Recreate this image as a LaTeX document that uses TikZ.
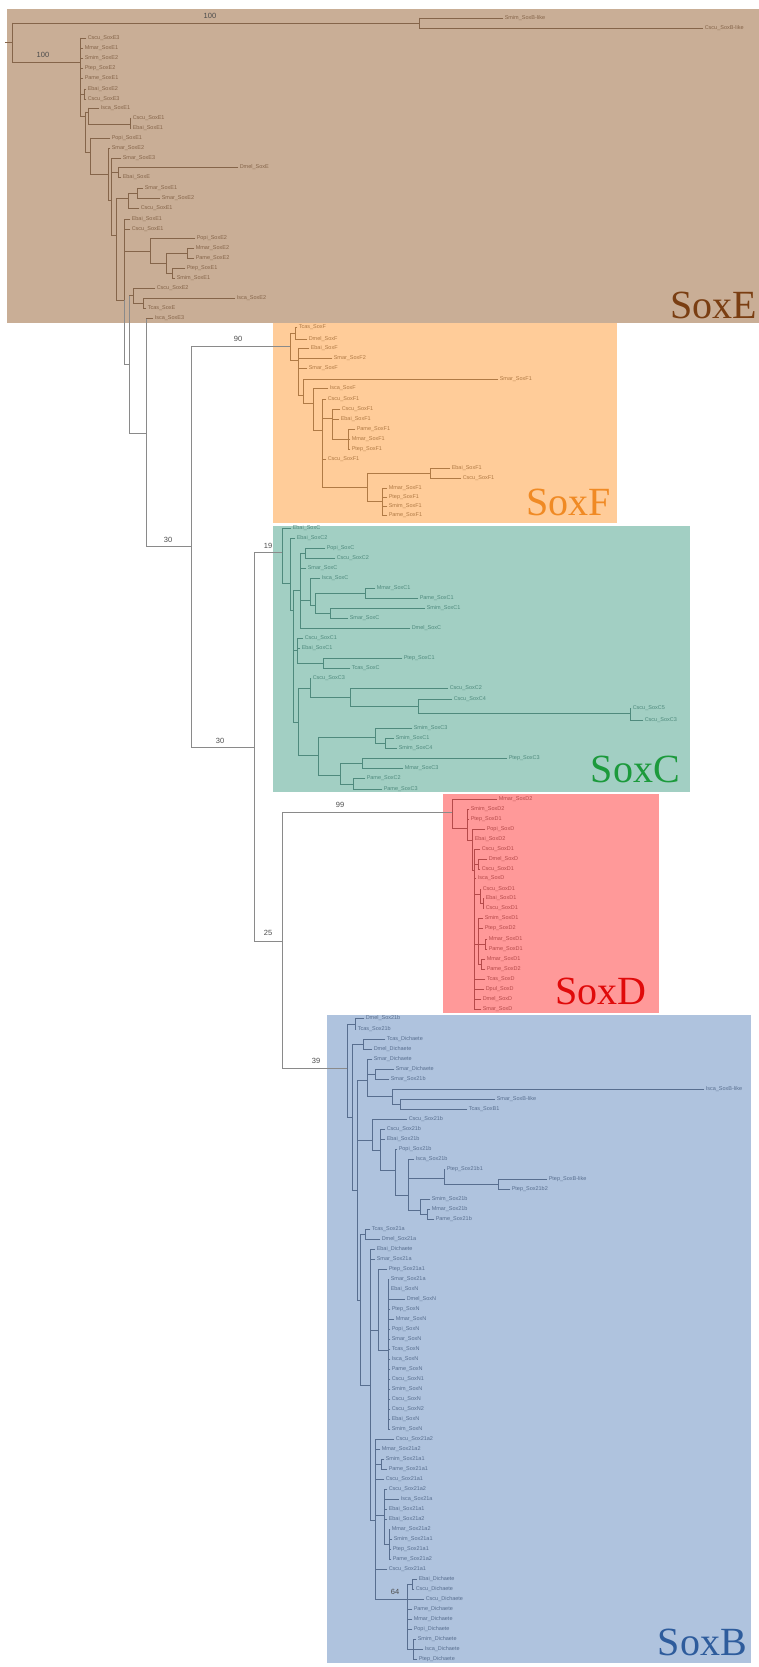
\documentclass[tikz,border=0pt]{standalone}
\usepackage{fontspec}
\setmainfont{Liberation Sans}
\newfontfamily\bigserif{Liberation Serif}
\definecolor{boxE}{HTML}{C9AE96}
\definecolor{boxF}{HTML}{FFCC99}
\definecolor{boxC}{HTML}{A2CFC3}
\definecolor{boxD}{HTML}{FF9999}
\definecolor{boxB}{HTML}{AFC3DE}
\definecolor{lnE}{HTML}{85654A}
\definecolor{lnF}{HTML}{B07A45}
\definecolor{lnC}{HTML}{4F8A7D}
\definecolor{lnD}{HTML}{B54A4A}
\definecolor{lnB}{HTML}{586E8F}
\definecolor{lnG}{HTML}{8A8A8A}
\definecolor{tE}{HTML}{7A3E12}
\definecolor{tF}{HTML}{F08A24}
\definecolor{tC}{HTML}{1C9A3C}
\definecolor{tD}{HTML}{E00A0A}
\definecolor{tB}{HTML}{2E5C9C}
\newcommand{\thl}[3]{\draw[br] (#1,#3) -- (#2,#3);}
\newcommand{\tvl}[3]{\draw[br] (#1,#2) -- (#1,#3);}
\newcommand{\tlf}[4]{\draw[br] (#1,#3) -- (#2,#3) node[lab,anchor=west]{#4};}
\newcommand{\bsv}[3]{\node[bsl] at (#1,#2) {#3};}
\tikzset{
  lab/.style={inner xsep=1.5pt,inner ysep=0pt,font=\fontsize{5.5}{6}\selectfont},
  bsl/.style={inner sep=0pt,font=\fontsize{7.5}{8}\selectfont,text=black!70},
  big/.style={inner sep=0pt,anchor=south east,font=\bigserif\fontsize{40}{44}\selectfont},
  regE/.style={br/.style={draw=lnE,line width=0.5pt,line cap=rect},lab/.append style={text=lnE}},
  regF/.style={br/.style={draw=lnF,line width=0.5pt,line cap=rect},lab/.append style={text=lnF}},
  regC/.style={br/.style={draw=lnC,line width=0.5pt,line cap=rect},lab/.append style={text=lnC}},
  regD/.style={br/.style={draw=lnD,line width=0.5pt,line cap=rect},lab/.append style={text=lnD}},
  regB/.style={br/.style={draw=lnB,line width=0.5pt,line cap=rect},lab/.append style={text=lnB}},
  regG/.style={br/.style={draw=lnG,line width=0.6pt,line cap=rect}},
}
\begin{document}
\begin{tikzpicture}[x=1pt,y=-1pt]
\useasboundingbox (0,0) rectangle (759,1667);
% boxes
\fill[boxE] (7,9) rectangle (759,323);
\fill[boxF] (273,323) rectangle (617,523);
\fill[boxC] (273,526) rectangle (690,792);
\fill[boxD] (443,794) rectangle (659,1013);
\fill[boxB] (327,1015) rectangle (751,1663);
\node[big,text=tE] at (757,319) {SoxE};
\node[big,text=tF] at (611,516) {SoxF};
\node[big,text=tC] at (680,783) {SoxC};
\node[big,text=tD] at (647,1005) {SoxD};
\node[big,text=tB] at (747,1656) {SoxB};
% backbone
\begin{scope}[regG]
\tvl{124}{300}{364}
\thl{124}{129}{364}
\tvl{129}{295}{433}
\thl{129}{146}{433}
\tvl{146}{318}{546}
\thl{146}{191}{546} \bsv{168}{540}{30}
\tvl{191}{346}{747}
\thl{191}{290}{346} \bsv{238}{339}{90}
\thl{191}{254}{747} \bsv{220}{741}{30}
\tvl{254}{552}{941}
\thl{254}{282}{552} \bsv{268}{546}{19}
\thl{254}{282}{941} \bsv{268}{933}{25}
\tvl{282}{812}{1068}
\thl{282}{452}{812} \bsv{340}{805}{99}
\thl{282}{347}{1068} \bsv{316}{1061}{39}
\end{scope}
% SoxE
\begin{scope}[regE]
\thl{5}{12}{42}
\tvl{12}{23}{62}
\thl{12}{419}{23} \bsv{210}{16}{100}
\tvl{419}{18}{28}
\tlf{419}{503}{18}{Smim\_SoxB-like}
\tlf{419}{703}{28}{Cscu\_SoxB-like}
\thl{12}{80}{62} \bsv{43}{55}{100}
\tvl{80}{38}{116}
\tlf{80}{86}{38}{Cscu\_SoxE3}
\tlf{80}{83}{48}{Mmar\_SoxE1}
\tlf{80}{83}{58}{Smim\_SoxE2}
\tlf{80}{83}{68}{Ptep\_SoxE2}
\tlf{80}{83}{78}{Pame\_SoxE1}
\thl{80}{84}{94}\tvl{84}{89}{99}
\tlf{84}{86}{89}{Ebai\_SoxE2}
\tlf{84}{86}{99}{Cscu\_SoxE3}
\thl{80}{85}{116}\tvl{85}{112}{152}
\thl{85}{88}{112}\tvl{88}{108}{124}
\tlf{88}{99}{108}{Isca\_SoxE1}
\thl{88}{130}{124}\tvl{130}{118}{128}
\tlf{130}{131}{118}{Cscu\_SoxE1}
\tlf{130}{131}{128}{Ebai\_SoxE1}
\thl{85}{90}{152}\tvl{90}{138}{174}
\tlf{90}{110}{138}{Popi\_SoxE1}
\thl{90}{108}{174}\tvl{108}{148}{200}
\tlf{108}{110}{148}{Smar\_SoxE2}
\thl{108}{111}{200}\tvl{111}{158}{235}
\tlf{111}{121}{158}{Smar\_SoxE3}
\thl{111}{118}{172}\tvl{118}{167}{177}
\tlf{118}{238}{167}{Dmel\_SoxE}
\tlf{118}{121}{177}{Ebai\_SoxE}
\thl{111}{116}{235}\tvl{116}{198}{300}
\thl{116}{128}{198}\tvl{128}{193}{208}
\thl{128}{137}{193}\tvl{137}{188}{198}
\tlf{137}{143}{188}{Smar\_SoxE1}
\tlf{137}{160}{198}{Smar\_SoxE2}
\tlf{128}{139}{208}{Cscu\_SoxE1}
\thl{116}{124}{300}\tvl{124}{219}{300}
\tlf{124}{130}{219}{Ebai\_SoxE1}
\tlf{124}{130}{229}{Cscu\_SoxE1}
\thl{124}{150}{251}\tvl{150}{238}{263}
\tlf{150}{195}{238}{Popi\_SoxE2}
\thl{150}{166}{263}\tvl{166}{253}{273}
\thl{166}{187}{253}\tvl{187}{248}{258}
\tlf{187}{194}{248}{Mmar\_SoxE2}
\tlf{187}{194}{258}{Pame\_SoxE2}
\thl{166}{172}{273}\tvl{172}{268}{278}
\tlf{172}{185}{268}{Ptep\_SoxE1}
\tlf{172}{175}{278}{Smim\_SoxE1}
\thl{129}{133}{295}\tvl{133}{288}{303}
\tlf{133}{155}{288}{Cscu\_SoxE2}
\thl{133}{143}{303}\tvl{143}{298}{308}
\tlf{143}{235}{298}{Isca\_SoxE2}
\tlf{143}{146}{308}{Tcas\_SoxE}
\tlf{146}{153}{318}{Isca\_SoxE3}
\end{scope}
% SoxF
\begin{scope}[regF]
\tvl{290}{333}{360}
\thl{290}{295}{333}\tvl{295}{327}{339}
\tlf{295}{297}{327}{Tcas\_SoxF}
\tlf{295}{307}{339}{Dmel\_SoxF}
\thl{290}{298}{360}\tvl{298}{348}{395}
\tlf{298}{309}{348}{Ebai\_SoxF}
\tlf{298}{332}{358}{Smar\_SoxF2}
\tlf{298}{307}{368}{Smar\_SoxF}
\thl{298}{303}{395}\tvl{303}{379}{403}
\tlf{303}{498}{379}{Smar\_SoxF1}
\thl{303}{313}{403}\tvl{313}{388}{430}
\tlf{313}{328}{388}{Isca\_SoxF}
\thl{313}{322}{430}\tvl{322}{399}{487}
\tlf{322}{326}{399}{Cscu\_SoxF1}
\thl{322}{332}{418}\tvl{332}{409}{439}
\tlf{332}{340}{409}{Cscu\_SoxF1}
\tlf{332}{339}{419}{Ebai\_SoxF1}
\thl{332}{348}{439}\tvl{348}{429}{449}
\tlf{348}{355}{429}{Pame\_SoxF1}
\tlf{348}{350}{439}{Mmar\_SoxF1}
\tlf{348}{350}{449}{Ptep\_SoxF1}
\tlf{322}{326}{459}{Cscu\_SoxF1}
\thl{322}{367}{487}\tvl{367}{473}{501}
\thl{367}{430}{473}\tvl{430}{468}{478}
\tlf{430}{450}{468}{Ebai\_SoxF1}
\tlf{430}{461}{478}{Cscu\_SoxF1}
\thl{367}{382}{501}\tvl{382}{488}{515}
\tlf{382}{387}{488}{Mmar\_SoxF1}
\tlf{382}{387}{497}{Ptep\_SoxF1}
\tlf{382}{387}{506}{Smim\_SoxF1}
\tlf{382}{387}{515}{Pame\_SoxF1}
\end{scope}
% SoxC
\begin{scope}[regC]
\tvl{282}{528}{583}
\tlf{282}{291}{528}{Ebai\_SoxC}
\thl{282}{290}{583}\tvl{290}{538}{610}
\tlf{290}{295}{538}{Ebai\_SoxC2}
\thl{290}{293}{610}\tvl{293}{590}{722}
\thl{293}{300}{590}\tvl{300}{553}{628}
\thl{300}{305}{553}\tvl{305}{548}{558}
\tlf{305}{325}{548}{Popi\_SoxC}
\tlf{305}{335}{558}{Cscu\_SoxC2}
\tlf{300}{306}{568}{Smar\_SoxC}
\thl{300}{310}{600}\tvl{310}{578}{605}
\tlf{310}{320}{578}{Isca\_SoxC}
\thl{310}{315}{605}\tvl{315}{593}{613}
\thl{315}{365}{593}\tvl{365}{588}{598}
\tlf{365}{375}{588}{Mmar\_SoxC1}
\tlf{365}{418}{598}{Pame\_SoxC1}
\thl{315}{330}{613}\tvl{330}{608}{618}
\tlf{330}{425}{608}{Smim\_SoxC1}
\tlf{330}{348}{618}{Smar\_SoxC}
\tlf{300}{410}{628}{Dmel\_SoxC}
\thl{293}{297}{650}\tvl{297}{638}{663}
\tlf{297}{303}{638}{Cscu\_SoxC1}
\tlf{297}{300}{648}{Ebai\_SoxC1}
\thl{297}{323}{663}\tvl{323}{658}{668}
\tlf{323}{402}{658}{Ptep\_SoxC1}
\tlf{323}{350}{668}{Tcas\_SoxC}
\thl{293}{298}{722}\tvl{298}{688}{755}
\thl{298}{310}{688}\tvl{310}{678}{697}
\tlf{310}{311}{678}{Cscu\_SoxC3}
\thl{310}{350}{697}\tvl{350}{688}{706}
\tlf{350}{448}{688}{Cscu\_SoxC2}
\thl{350}{418}{706}\tvl{418}{699}{713}
\tlf{418}{452}{699}{Cscu\_SoxC4}
\thl{418}{630}{713}\tvl{630}{708}{720}
\tlf{630}{631}{708}{Cscu\_SoxC5}
\tlf{630}{643}{720}{Cscu\_SoxC3}
\thl{298}{318}{755}\tvl{318}{737}{775}
\thl{318}{375}{737}\tvl{375}{728}{743}
\tlf{375}{412}{728}{Smim\_SoxC3}
\thl{375}{385}{743}\tvl{385}{738}{748}
\tlf{385}{394}{738}{Smim\_SoxC1}
\tlf{385}{397}{748}{Smim\_SoxC4}
\thl{318}{340}{775}\tvl{340}{763}{784}
\thl{340}{362}{763}\tvl{362}{758}{768}
\tlf{362}{507}{758}{Ptep\_SoxC3}
\tlf{362}{403}{768}{Mmar\_SoxC3}
\thl{340}{353}{784}\tvl{353}{778}{789}
\tlf{353}{365}{778}{Pame\_SoxC2}
\tlf{353}{382}{789}{Pame\_SoxC3}
\end{scope}
% SoxD
\begin{scope}[regD]
\tvl{452}{799}{828}
\tlf{452}{497}{799}{Mmar\_SoxD2}
\thl{452}{467}{828}\tvl{467}{809}{840}
\tlf{467}{469}{809}{Smim\_SoxD2}
\tlf{467}{469}{819}{Ptep\_SoxD1}
\thl{467}{472}{840}\tvl{472}{829}{870}
\tlf{472}{485}{829}{Popi\_SoxD}
\tlf{472}{473}{839}{Ebai\_SoxD2}
\thl{472}{474}{870}\tvl{474}{849}{1009}
\tlf{474}{480}{849}{Cscu\_SoxD1}
\thl{474}{478}{864}\tvl{478}{859}{869}
\tlf{478}{487}{859}{Dmel\_SoxD}
\tlf{478}{480}{869}{Cscu\_SoxD1}
\tlf{474}{476}{878}{Isca\_SoxD}
\thl{474}{480}{894}\tvl{480}{889}{903}
\tlf{480}{481}{889}{Cscu\_SoxD1}
\thl{480}{483}{903}\tvl{483}{898}{908}
\tlf{483}{484}{898}{Ebai\_SoxD1}
\tlf{483}{484}{908}{Cscu\_SoxD1}
\thl{474}{478}{944}\tvl{478}{918}{964}
\tlf{478}{483}{918}{Smim\_SoxD1}
\tlf{478}{483}{928}{Ptep\_SoxD2}
\thl{478}{485}{944}\tvl{485}{939}{949}
\tlf{485}{487}{939}{Mmar\_SoxD1}
\tlf{485}{487}{949}{Pame\_SoxD1}
\thl{478}{481}{964}\tvl{481}{959}{969}
\tlf{481}{485}{959}{Mmar\_SoxD1}
\tlf{481}{485}{969}{Pame\_SoxD2}
\tlf{474}{485}{979}{Tcas\_SoxD}
\tlf{474}{484}{989}{Dpul\_SoxD}
\tlf{474}{481}{999}{Dmel\_SoxD}
\tlf{474}{481}{1009}{Smar\_SoxD}
\end{scope}
% SoxB
\begin{scope}[regB]
\tvl{347}{1024}{1117}
\thl{347}{355}{1024}\tvl{355}{1018}{1029}
\tlf{355}{364}{1018}{Dmel\_Sox21b}
\tlf{355}{356}{1029}{Tcas\_Sox21b}
\thl{347}{352}{1117}\tvl{352}{1044}{1190}
\thl{352}{363}{1044}\tvl{363}{1039}{1049}
\tlf{363}{385}{1039}{Tcas\_Dichaete}
\tlf{363}{372}{1049}{Dmel\_Dichaete}
\thl{352}{357}{1190}\tvl{357}{1080}{1300}
\thl{357}{367}{1080}\tvl{367}{1059}{1096}
\tlf{367}{372}{1059}{Smar\_Dichaete}
\thl{367}{375}{1074}\tvl{375}{1069}{1079}
\tlf{375}{394}{1069}{Smar\_Dichaete}
\tlf{375}{389}{1079}{Smar\_Sox21b}
\thl{367}{392}{1096}\tvl{392}{1089}{1104}
\tlf{392}{704}{1089}{Isca\_SoxB-like}
\thl{392}{400}{1104}\tvl{400}{1099}{1109}
\tlf{400}{495}{1099}{Smar\_SoxB-like}
\tlf{400}{467}{1109}{Tcas\_SoxB1}
\thl{357}{372}{1140}\tvl{372}{1119}{1150}
\tlf{372}{407}{1119}{Cscu\_Sox21b}
\thl{372}{380}{1150}\tvl{380}{1129}{1170}
\tlf{380}{385}{1129}{Cscu\_Sox21b}
\tlf{380}{385}{1139}{Ebai\_Sox21b}
\thl{380}{395}{1170}\tvl{395}{1149}{1195}
\tlf{395}{397}{1149}{Popi\_Sox21b}
\thl{395}{408}{1195}\tvl{408}{1159}{1210}
\tlf{408}{414}{1159}{Isca\_Sox21b}
\thl{408}{444}{1178}\tvl{444}{1169}{1184}
\tlf{444}{445}{1169}{Ptep\_Sox21b1}
\thl{444}{498}{1184}\tvl{498}{1179}{1189}
\tlf{498}{547}{1179}{Ptep\_SoxB-like}
\tlf{498}{510}{1189}{Ptep\_Sox21b2}
\thl{408}{420}{1210}\tvl{420}{1199}{1214}
\tlf{420}{430}{1199}{Smim\_Sox21b}
\thl{420}{427}{1214}\tvl{427}{1209}{1219}
\tlf{427}{430}{1209}{Mmar\_Sox21b}
\tlf{427}{434}{1219}{Pame\_Sox21b}
\thl{357}{360}{1300}\tvl{360}{1234}{1385}
\thl{360}{365}{1234}\tvl{365}{1229}{1239}
\tlf{365}{370}{1229}{Tcas\_Sox21a}
\tlf{365}{380}{1239}{Dmel\_Sox21a}
\thl{360}{370}{1385}\tvl{370}{1249}{1520}
\tlf{370}{375}{1249}{Ebai\_Dichaete}
\tlf{370}{375}{1259}{Smar\_Sox21a}
\thl{370}{378}{1330}\tvl{378}{1269}{1350}
\tlf{378}{387}{1269}{Ptep\_Sox21a1}
\thl{378}{388}{1350}\tvl{388}{1279}{1429}
\tlf{388}{389}{1279}{Smar\_Sox21a}
\tlf{388}{389}{1289}{Ebai\_SoxN}
\tlf{388}{405}{1299}{Dmel\_SoxN}
\tlf{388}{390}{1309}{Ptep\_SoxN}
\tlf{388}{394}{1319}{Mmar\_SoxN}
\tlf{388}{390}{1329}{Popi\_SoxN}
\tlf{388}{390}{1339}{Smar\_SoxN}
\tlf{388}{390}{1349}{Tcas\_SoxN}
\tlf{388}{390}{1359}{Isca\_SoxN}
\tlf{388}{390}{1369}{Pame\_SoxN}
\tlf{388}{390}{1379}{Cscu\_SoxN1}
\tlf{388}{390}{1389}{Smim\_SoxN}
\tlf{388}{390}{1399}{Cscu\_SoxN}
\tlf{388}{390}{1409}{Cscu\_SoxN2}
\tlf{388}{390}{1419}{Ebai\_SoxN}
\tlf{388}{390}{1429}{Smim\_SoxN}
\thl{370}{375}{1520}\tvl{375}{1439}{1599}
\tlf{375}{394}{1439}{Cscu\_Sox21a2}
\tlf{375}{380}{1449}{Mmar\_Sox21a2}
\thl{375}{381}{1464}\tvl{381}{1459}{1469}
\tlf{381}{384}{1459}{Smim\_Sox21a1}
\tlf{381}{387}{1469}{Pame\_Sox21a1}
\tlf{375}{384}{1479}{Cscu\_Sox21a1}
\thl{375}{384}{1515}\tvl{384}{1489}{1544}
\tlf{384}{387}{1489}{Cscu\_Sox21a2}
\tlf{384}{399}{1499}{Isca\_Sox21a}
\tlf{384}{387}{1509}{Ebai\_Sox21a1}
\tlf{384}{387}{1519}{Ebai\_Sox21a2}
\thl{384}{389}{1544}\tvl{389}{1529}{1559}
\tlf{389}{390}{1529}{Mmar\_Sox21a2}
\tlf{389}{392}{1539}{Smim\_Sox21a1}
\tlf{389}{391}{1549}{Ptep\_Sox21a1}
\tlf{389}{391}{1559}{Pame\_Sox21a2}
\tlf{375}{387}{1569}{Cscu\_Sox21a1}
\thl{375}{407}{1599} \bsv{395}{1592}{64}
\tvl{407}{1584}{1649}
\thl{407}{412}{1584}\tvl{412}{1579}{1589}
\tlf{412}{417}{1579}{Ebai\_Dichaete}
\tlf{412}{414}{1589}{Cscu\_Dichaete}
\tlf{407}{424}{1599}{Cscu\_Dichaete}
\tlf{407}{412}{1609}{Pame\_Dichaete}
\tlf{407}{412}{1619}{Mmar\_Dichaete}
\tlf{407}{412}{1629}{Popi\_Dichaete}
\thl{407}{413}{1649}\tvl{413}{1639}{1659}
\tlf{413}{416}{1639}{Smim\_Dichaete}
\tlf{413}{423}{1649}{Isca\_Dichaete}
\tlf{413}{417}{1659}{Ptep\_Dichaete}
\end{scope}
\end{tikzpicture}
\end{document}
